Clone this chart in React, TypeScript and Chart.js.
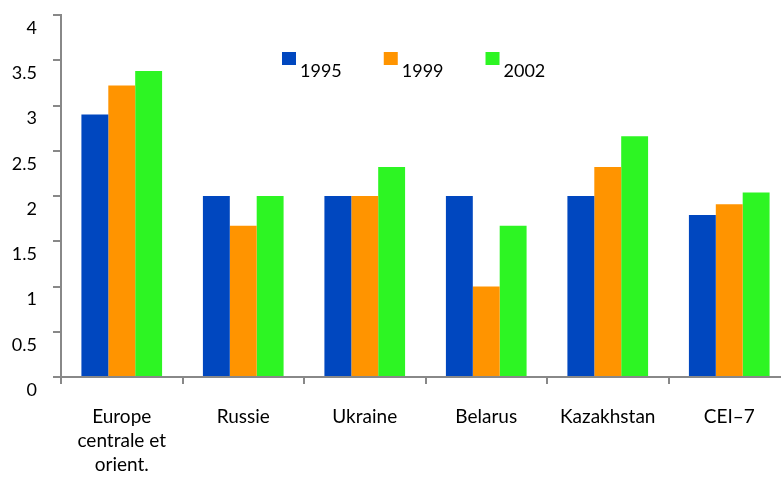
import React, { useEffect, useRef } from "react";
import { Chart, registerables } from "chart.js";

Chart.register(...registerables);

const categories: (string | string[])[] = [
  ["Europe", "centrale et", "orient."],
  "Russie",
  "Ukraine",
  "Belarus",
  "Kazakhstan",
  "CEI\u20137",
];
const seriesLabels = ["1995", "1999", "2002"];
const seriesColors = ["#0047BF", "#FF9400", "#2DF523"];
const values1995 = [2.9, 2.0, 2.0, 2.0, 2.0, 1.79];
const values1999 = [3.22, 1.67, 2.0, 1.0, 2.32, 1.91];
const values2002 = [3.38, 2.0, 2.32, 1.67, 2.66, 2.04];
const yTicks = { min: 0, max: 4, step: 0.5 };

const FONT = "Lato";
const AXIS = "#888888";

const legendPlugin = {
  id: "customLegend",
  afterDraw(chart: any) {
    const ctx = chart.ctx;
    ctx.save();
    ctx.font = `18px ${FONT}`;
    ctx.textBaseline = "alphabetic";
    ctx.textAlign = "left";
    let x = 282;
    const boxTop = 52;
    chart.data.datasets.forEach((ds: any) => {
      ctx.fillStyle = ds.backgroundColor;
      ctx.fillRect(x, boxTop, 14, 13);
      ctx.fillStyle = "#000";
      ctx.fillText(ds.label, x + 18, 77);
      const w = ctx.measureText(ds.label).width;
      x += 18 + w + 42;
    });
    ctx.restore();
  },
};

export default function App() {
  const ref = useRef<HTMLCanvasElement | null>(null);
  useEffect(() => {
    if (!ref.current) return;
    const data = [values1995, values1999, values2002];
    const chart = new Chart(ref.current, {
      type: "bar",
      data: {
        labels: categories,
        datasets: seriesLabels.map((l, i) => ({
          label: l,
          data: data[i],
          backgroundColor: seriesColors[i],
          borderWidth: 0,
          categoryPercentage: 0.664,
          barPercentage: 1,
        })),
      },
      options: {
        responsive: false,
        animation: false,
        layout: { padding: { top: 15, left: 0, right: 0, bottom: 0 } },
        plugins: { legend: { display: false }, tooltip: { enabled: false } },
        scales: {
          x: {
            grid: {
              drawOnChartArea: false,
              offset: true,
              color: AXIS,
              lineWidth: 2,
              tickLength: 7,
            },
            border: { color: AXIS, width: 2 },
            ticks: {
              color: "#000",
              font: { family: FONT, size: 19, lineHeight: 1.26 },
              padding: 21,
              maxRotation: 0,
              autoSkip: false,
            },
            afterFit: (s: any) => {
              s.height = 100;
              s.paddingLeft = 0;
              s.paddingRight = 0;
            },
          },
          y: {
            min: yTicks.min,
            max: yTicks.max,
            grid: {
              drawOnChartArea: false,
              color: AXIS,
              lineWidth: 2,
              tickLength: 8,
            },
            border: { color: AXIS, width: 2 },
            ticks: {
              stepSize: yTicks.step,
              color: "#000",
              font: { family: FONT, size: 18 },
              padding: 16,
              labelOffset: 13,
              callback: (v: any) => String(v),
            },
            afterFit: (s: any) => {
              s.width = 61;
              s.paddingTop = 0;
              s.paddingBottom = 0;
            },
          },
        },
      },
      plugins: [legendPlugin],
    });
    return () => chart.destroy();
  }, []);
  return (
    <div
      style={{
        position: "fixed",
        left: 0,
        top: 0,
        width: 781,
        height: 477,
        overflow: "hidden",
        background: "#fff",
      }}
    >
      <canvas ref={ref} width={790} height={477} style={{ display: "block" }} />
    </div>
  );
}
